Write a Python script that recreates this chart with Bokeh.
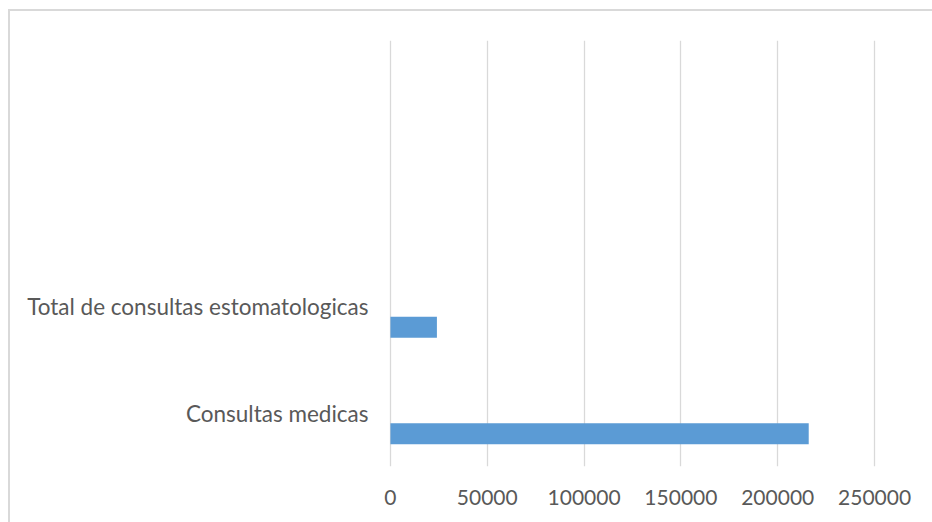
from bokeh.plotting import figure
from bokeh.models import ColumnDataSource, Range1d, FactorRange, FixedTicker, NumeralTickFormatter
from bokeh.transform import dodge
from bokeh.embed import file_html
from bokeh.resources import INLINE

# data
categories = ["Consultas medicas", "Total de consultas estomatologicas", " ", "  "]
bar_categories = ["Consultas medicas", "Total de consultas estomatologicas"]
bar_values = [216000, 24000]
x_ticks = [0, 50000, 100000, 150000, 200000, 250000]

FONT = "Lato"
TEXT = "#595959"
GRID = "#D9D9D9"
BLUE = "#5B9BD5"

p = figure(width=922, height=511, output_backend="svg", toolbar_location=None,
           y_range=FactorRange(*categories), x_range=Range1d(-1000, 251000),
           min_border_left=378, min_border_right=56, min_border_top=29, min_border_bottom=56,
           tools="")
p.styles = {"outline": "2px solid #D9D9D9", "outline-offset": "0px",
            "margin-left": "10px", "margin-top": "11px"}
p.outline_line_color = None

src = ColumnDataSource(dict(cat=bar_categories, val=bar_values))
p.hbar(y=dodge("cat", -0.193, range=p.y_range), left=0, right="val", height=0.197,
       source=src, fill_color=BLUE, line_color=None)

p.xaxis.ticker = FixedTicker(ticks=x_ticks)
p.xaxis.formatter = NumeralTickFormatter(format="0")
for ax in (p.xaxis[0], p.yaxis[0]):
    ax.axis_line_color = None
    ax.major_tick_line_color = None
    ax.minor_tick_line_color = None
    ax.major_label_text_font = FONT
    ax.major_label_text_color = TEXT
p.xaxis.major_label_text_font_size = "21px"
p.yaxis.major_label_text_font_size = "22.5px"
p.xaxis.major_label_standoff = 17
p.yaxis.major_label_standoff = 14

p.xgrid.grid_line_color = GRID
p.xgrid.grid_line_width = 1.3
p.xgrid.ticker = FixedTicker(ticks=x_ticks)
p.ygrid.grid_line_color = None

open("out.html", "w").write(file_html(p, INLINE))
